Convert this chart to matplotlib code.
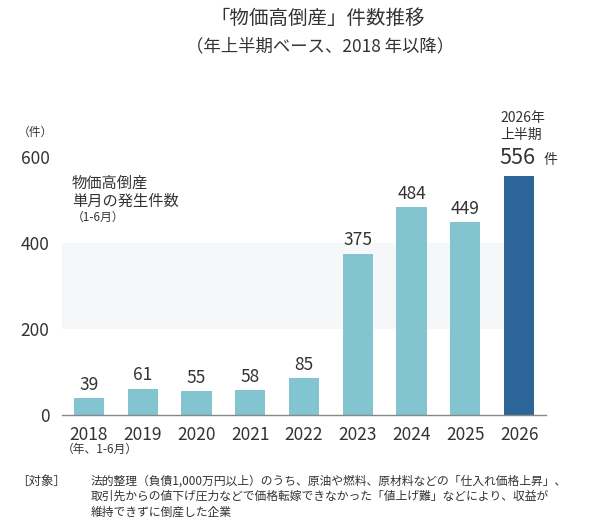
import matplotlib
matplotlib.use("Agg")
import matplotlib.pyplot as plt

plt.rcParams['font.family'] = ['Noto Sans CJK JP', 'DejaVu Sans']

years = ["2018", "2019", "2020", "2021", "2022", "2023", "2024", "2025", "2026"]
counts = [39, 61, 55, 58, 85, 375, 484, 449, 556]
yticks = [0, 200, 400, 600]

light = "#82c5d1"
dark = "#2c6698"
txt = "#333333"

W, H = 600, 526
fig = plt.figure(figsize=(W / 100, H / 100), dpi=100)
ax_left, ax_right = 62 / W, 546 / W
ax_bottom, ax_top = 1 - 415 / H, 1 - 157 / H
ax = fig.add_axes([ax_left, ax_bottom, ax_right - ax_left, ax_top - ax_bottom])

x = list(range(len(years)))
colors = [light] * (len(years) - 1) + [dark]
ax.axhspan(200, 400, xmin=0, xmax=0.93, color="#f6f7f8", zorder=0, lw=0)
ax.bar(x, counts, width=0.56, color=colors, zorder=2)
for i, v in enumerate(counts[:-1]):
    ax.text(i, v + 10, str(v), ha="center", va="bottom", fontsize=12.5, color=txt)

ax.set_xlim(-0.5, 8.5)
ax.set_ylim(0, 600)
ax.set_yticks(yticks)
ax.set_yticklabels([str(t) for t in yticks], fontsize=12.5, color=txt)
ax.set_xticks(x)
ax.set_xticklabels(years, fontsize=12.5, color=txt)
ax.tick_params(axis="y", length=0, pad=9)
ax.tick_params(axis="x", length=0, pad=8)
for s in ["top", "right", "left"]:
    ax.spines[s].set_visible(False)
ax.spines["bottom"].set_color("#888888")
ax.spines["bottom"].set_linewidth(1.0)

def fx(px):
    return px / W

def fy(py):
    return 1 - py / H

fig.text(fx(318), fy(18), "「物価高倒産」件数推移", ha="center", va="center", fontsize=14, color=txt)
fig.text(fx(320), fy(46), "（年上半期ベース、2018 年以降）", ha="center", va="center", fontsize=12.5, color=txt)
fig.text(fx(18), fy(132), "（件）", ha="left", va="center", fontsize=8.5, color=txt)
fig.text(fx(72), fy(183), "物価高倒産", ha="left", va="center", fontsize=11, color=txt)
fig.text(fx(72), fy(201), "単月の発生件数", ha="left", va="center", fontsize=11, color=txt)
fig.text(fx(72), fy(217), "（1-6月）", ha="left", va="center", fontsize=8.5, color=txt)

fig.text(fx(500), fy(118), "2026年", ha="left", va="center", fontsize=10, color=txt)
fig.text(fx(500), fy(135), "上半期", ha="left", va="center", fontsize=10, color=txt)
fig.text(fx(499), fy(158), str(counts[-1]), ha="left", va="center", fontsize=15.5, color=txt)
fig.text(fx(543), fy(160), "件", ha="left", va="center", fontsize=10, color=txt)

fig.text(fx(62), fy(449), "（年、1-6月）", ha="left", va="center", fontsize=8.5, color=txt)

fig.text(fx(16), fy(481), "［対象］", ha="left", va="center", fontsize=9, color=txt)
foot = [
    "法的整理（負債1,000万円以上）のうち、原油や燃料、原材料などの「仕入れ価格上昇」、",
    "取引先からの値下げ圧力などで価格転嫁できなかった「値上げ難」などにより、収益が",
    "維持できずに倒産した企業",
]
for i, line in enumerate(foot):
    fig.text(fx(91), fy(481 + i * 15.5), line, ha="left", va="center", fontsize=8.5, color=txt)

fig.savefig("out.png", dpi=100, facecolor="white")
